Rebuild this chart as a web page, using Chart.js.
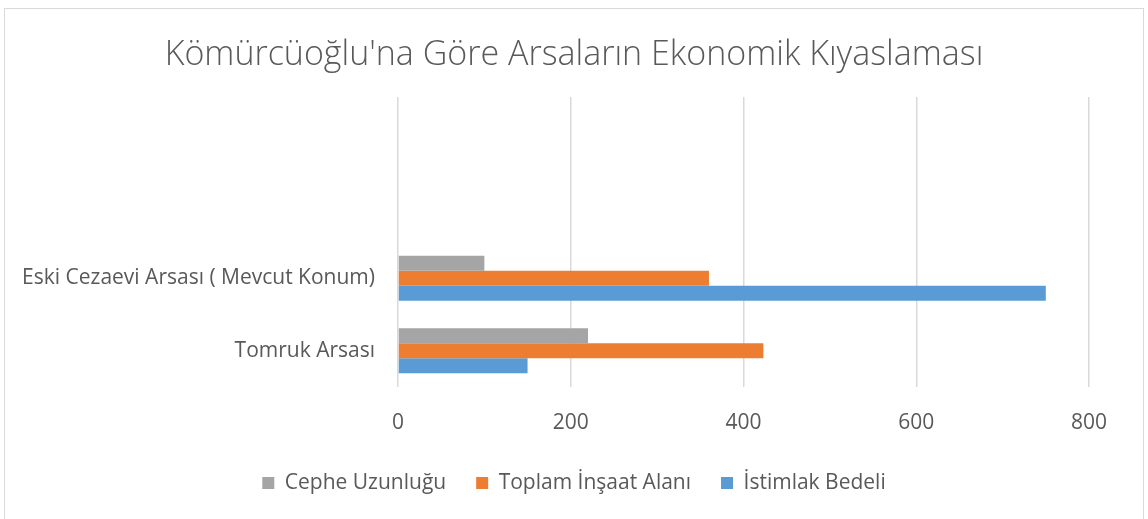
<!DOCTYPE html>
<html lang="tr">
<head>
<meta charset="utf-8">
<title>Kömürcüoğlu'na Göre Arsaların Ekonomik Kıyaslaması</title>
<script src="https://cdn.jsdelivr.net/npm/chart.js@4.4.1/dist/chart.umd.min.js"></script>
<style>
  html, body { margin: 0; padding: 0; background: #ffffff; overflow: hidden; }
  canvas { display: block; }
</style>
</head>
<body>
<canvas id="arsaChart" width="1148" height="519"></canvas>
<script>
// categories listed top to bottom; the two top rows are empty in the source sheet
const categories = ["", "", "Eski Cezaevi Arsası ( Mevcut Konum)", "Tomruk Arsası"];

const cepheUzunlugu = [null, null, 100, 220];
const toplamInsaatAlani = [null, null, 360, 423];
const istimlakBedeli = [null, null, 750, 150];

const xTicks = [0, 200, 400, 600, 800];

const TEXT = "#595959";
const FONT = "'Open Sans', 'Noto Sans', sans-serif";

/* ===============================
   OUTER FRAME
   =============================== */
const chartFrame = {
  id: "chartFrame",
  beforeDraw(chart) {
    const c = chart.ctx;
    c.save();
    c.fillStyle = "#ffffff";
    c.fillRect(0, 0, chart.width, chart.height);
    c.strokeStyle = "#d9d9d9";
    c.lineWidth = 1;
    c.strokeRect(4.5, 8.5, 1139, 540);
    c.restore();
  }
};

new Chart(document.getElementById("arsaChart").getContext("2d"), {
  type: "bar",
  data: {
    labels: categories,
    datasets: [
      {
        label: "Cephe Uzunluğu",
        data: cepheUzunlugu,
        backgroundColor: "#a5a5a5"
      },
      {
        label: "Toplam İnşaat Alanı",
        data: toplamInsaatAlani,
        backgroundColor: "#ed7d31"
      },
      {
        label: "İstimlak Bedeli",
        data: istimlakBedeli,
        backgroundColor: "#5b9bd5"
      }
    ]
  },
  options: {
    indexAxis: "y",
    responsive: false,
    animation: false,
    categoryPercentage: 0.62,
    barPercentage: 1,
    layout: {
      padding: { top: 0, left: 10, right: 10, bottom: 15.5 }
    },
    plugins: {
      title: {
        display: true,
        text: "Kömürcüoğlu'na Göre Arsaların Ekonomik Kıyaslaması",
        color: TEXT,
        font: { family: FONT, size: 34, weight: 300, lineHeight: 1.2 },
        padding: { top: 35, bottom: 21.2 }
      },
      legend: {
        position: "bottom",
        labels: {
          color: TEXT,
          font: { family: FONT, size: 21 },
          boxWidth: 12,
          boxHeight: 12,
          padding: 30
        }
      },
      tooltip: { enabled: false }
    },
    scales: {
      x: {
        min: 0,
        max: 800,
        afterBuildTicks: scale => {
          scale.ticks = xTicks.map(v => ({ value: v }));
        },
        afterFit: scale => { scale.height = 55.5; },
        ticks: {
          color: TEXT,
          font: { family: FONT, size: 21 },
          padding: 23
        },
        grid: {
          color: "#d9d9d9",
          lineWidth: 1.5,
          drawTicks: false
        },
        border: { display: false }
      },
      y: {
        afterFit: scale => { scale.width = 388; },
        ticks: {
          color: TEXT,
          font: { family: FONT, size: 21 },
          padding: 23
        },
        grid: { display: false, drawTicks: false },
        border: { display: false }
      },
      // empty strip on the right so the plot ends at 800 while title/legend stay centred
      yRight: {
        position: "right",
        afterFit: scale => { scale.width = 49; },
        ticks: { display: false },
        grid: { display: false, drawTicks: false },
        border: { display: false }
      }
    }
  },
  plugins: [chartFrame]
});
</script>
</body>
</html>
